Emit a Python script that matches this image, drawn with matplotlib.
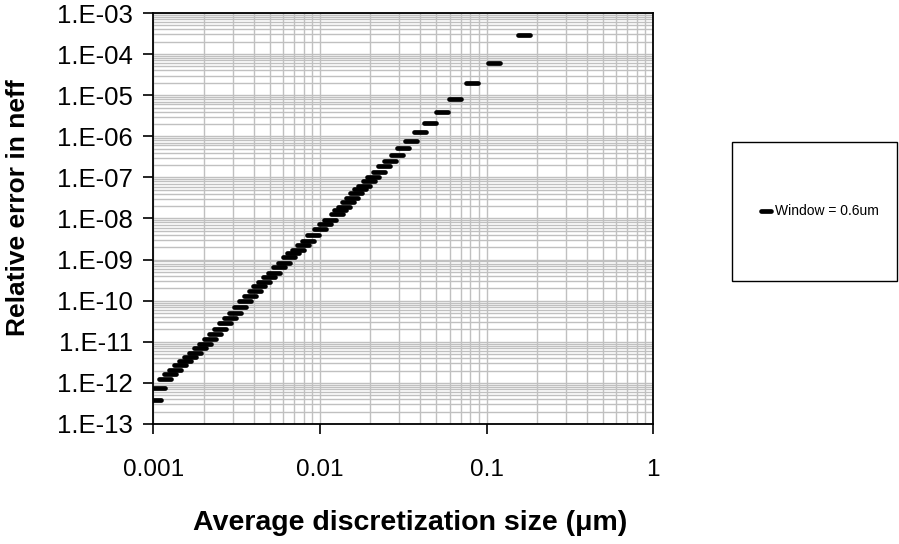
import numpy as np
import matplotlib

matplotlib.use("Agg")
import matplotlib.pyplot as plt
from matplotlib.markers import MarkerStyle
from matplotlib.patches import Rectangle
from matplotlib.ticker import FixedLocator, FuncFormatter, LogLocator, NullFormatter

plt.rcParams["font.family"] = ["Liberation Sans", "DejaVu Sans"]

# average discretization size (um) and relative error in neff
size_um = [
    1.02e-3, 1.083e-3, 1.172e-3, 1.256e-3, 1.346e-3, 1.443e-3, 1.546e-3, 1.657e-3,
    1.775e-3, 1.902e-3, 2.038e-3, 2.184e-3, 2.341e-3, 2.508e-3, 2.688e-3, 2.881e-3,
    3.087e-3, 3.308e-3, 3.544e-3, 3.798e-3, 4.07e-3, 4.32e-3, 4.63e-3, 4.96e-3,
    5.32e-3, 5.69e-3, 6.08e-3, 6.54e-3, 6.91e-3, 7.41e-3, 7.94e-3, 8.51e-3,
    9.12e-3, 1.000e-2, 1.072e-2, 1.148e-2, 1.260e-2, 1.318e-2, 1.400e-2, 1.479e-2,
    1.550e-2, 1.645e-2, 1.738e-2, 1.837e-2, 1.968e-2, 2.089e-2, 2.252e-2, 2.422e-2,
    2.632e-2, 2.890e-2, 3.165e-2, 3.535e-2, 3.986e-2, 4.58e-2, 5.38e-2, 6.47e-2,
    8.19e-2, 0.111, 0.1687,
]
rel_error = [
    3.8e-13, 7.7e-13, 1.27e-12, 1.62e-12, 2.11e-12, 2.69e-12, 3.42e-12, 4.28e-12,
    5.35e-12, 7.25e-12, 9.07e-12, 1.20e-11, 1.59e-11, 2.10e-11, 2.79e-11, 3.85e-11,
    5.10e-11, 7.14e-11, 9.72e-11, 1.29e-10, 1.70e-10, 2.25e-10, 2.87e-10, 3.79e-10,
    4.75e-10, 6.43e-10, 8.32e-10, 1.13e-9, 1.41e-9, 1.76e-9, 2.24e-9, 2.86e-9,
    3.94e-9, 5.41e-9, 7.28e-9, 9.12e-9, 1.26e-8, 1.60e-8, 1.92e-8, 2.54e-8,
    3.08e-8, 4.07e-8, 5.09e-8, 6.24e-8, 7.98e-8, 1.03e-7, 1.35e-7, 1.85e-7,
    2.49e-7, 3.55e-7, 5.25e-7, 7.78e-7, 1.24e-6, 2.13e-6, 3.95e-6, 8.19e-6,
    1.98e-5, 6.07e-5, 2.92e-4,
]
series_label = "Window = 0.6um"
x_ticks = [0.001, 0.01, 0.1, 1]
x_tick_labels = ["0.001", "0.01", "0.1", "1"]
y_exponents = list(range(-13, -2))

fig = plt.figure(figsize=(8.99, 5.44), dpi=100)
ax = fig.add_axes([0.1707, 0.2206, 0.5557, 0.7555])

dash = MarkerStyle("_", capstyle="round")
ax.plot(size_um, rel_error, linestyle="none", marker=dash, markersize=9,
        markeredgewidth=3.4, color="black", label=series_label)

ax.set_xscale("log")
ax.set_yscale("log")
ax.set_xlim(0.001, 1)
ax.set_ylim(1e-13, 1e-3)

ax.xaxis.set_major_locator(FixedLocator(x_ticks))
ax.xaxis.set_major_formatter(FuncFormatter(lambda v, _: x_tick_labels[x_ticks.index(v)]
                                           if v in x_ticks else ""))
ax.yaxis.set_major_locator(FixedLocator([10.0 ** e for e in y_exponents]))
ax.yaxis.set_major_formatter(FuncFormatter(
    lambda v, _: f"1.E{int(round(np.log10(v))):03d}"))
for axis in (ax.xaxis, ax.yaxis):
    axis.set_minor_locator(LogLocator(base=10, subs=np.arange(2, 10), numticks=20))
    axis.set_minor_formatter(NullFormatter())

ax.grid(True, which="both", color="#c0c0c0", linewidth=1.0)
ax.set_axisbelow(True)
ax.tick_params(which="major", direction="out", length=7, width=1.2, color="black")
ax.tick_params(axis="x", labelsize=17.5, pad=18)
ax.tick_params(axis="y", labelsize=18.5, pad=8)
ax.tick_params(which="minor", length=0)
for spine in ax.spines.values():
    spine.set_color("black")
    spine.set_linewidth(1.3)

ax.set_xlabel("Average discretization size (\u03bcm)", fontsize=20.5,
              fontweight="bold", va="center")
ax.xaxis.set_label_coords(0.5135, -0.241)
ax.set_ylabel("Relative error in neff", fontsize=19, fontweight="bold", va="center")
ax.yaxis.set_label_coords(-0.271, 0.5255)

# legend box sits apart from the plot, to the right
fig.patches.append(Rectangle((731.7 / 899, 1 - 281 / 544), (897 - 731.7) / 899,
                             (281 - 141.7) / 544, transform=fig.transFigure,
                             facecolor="white", edgecolor="black", linewidth=1.0))
handles, labels = ax.get_legend_handles_labels()
fig.legend(handles, labels, loc="center", bbox_to_anchor=(820 / 899, 1 - 211.4 / 544),
           frameon=False, fontsize=10, handlelength=0.7, handletextpad=0.3,
           markerscale=0.75)

fig.savefig("out.png", dpi=100)
